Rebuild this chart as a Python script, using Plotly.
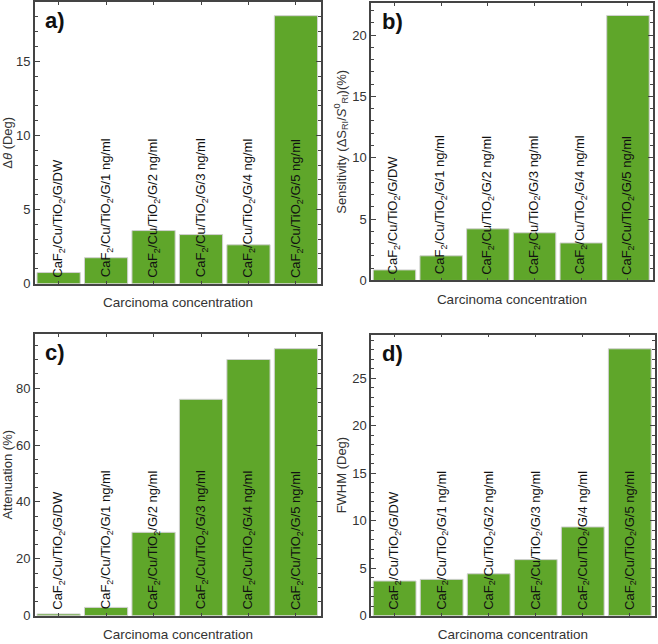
import plotly.graph_objects as go

categories = ["DW", "1 ng/ml", "2 ng/ml", "3 ng/ml", "4 ng/ml", "5 ng/ml"]
bar_labels = ["CaF<sub>2</sub>/Cu/TiO<sub>2</sub>/G/" + c for c in categories]

delta_theta = [0.75, 1.75, 3.58, 3.31, 2.62, 18.07]
sensitivity = [0.86, 2.01, 4.21, 3.89, 3.06, 21.6]
attenuation = [0.6, 2.9, 29.3, 76.1, 90.1, 93.9]
fwhm = [3.65, 3.82, 4.41, 5.9, 9.34, 28.1]

panels = [
    dict(vals=delta_theta, letter="a)", ytitle="Δ<i>θ</i> (Deg)", yrange=[0, 19.0], dtick=5, minor=1,
         xdom=[0.053, 0.488], ydom=[0.554, 0.997]),
    dict(vals=sensitivity, letter="b)", ytitle="Sensitivity (ΔS<sub>RI</sub>/<i>S</i><sup>0</sup><sub>RI</sub>)(%)",
         yrange=[0, 22.6], dtick=5, minor=1, xdom=[0.564, 0.992], ydom=[0.559, 0.995]),
    dict(vals=attenuation, letter="c)", ytitle="Attenuation (%)", yrange=[0, 99.1], dtick=20, minor=5,
         xdom=[0.053, 0.488], ydom=[0.032, 0.475]),
    dict(vals=fwhm, letter="d)", ytitle="FWHM (Deg)", yrange=[0, 29.6], dtick=5, minor=1,
         xdom=[0.564, 0.995], ydom=[0.032, 0.474]),
]

FONT = "Liberation Sans, Arial, sans-serif"
TXT = "#333333"
FRAME = "#444444"
GREEN = "#5fa62a"

fig = go.Figure()
layout = dict(
    width=658, height=644, margin=dict(l=0, r=0, t=0, b=0),
    paper_bgcolor="white", plot_bgcolor="white", showlegend=False,
    font=dict(family=FONT, size=13, color=TXT),
)
annotations = []
xs = list(range(len(categories)))
for i, p in enumerate(panels, start=1):
    sfx = "" if i == 1 else str(i)
    xa, ya = "x" + sfx, "y" + sfx
    fig.add_trace(go.Bar(
        x=xs, y=p["vals"], xaxis=xa, yaxis=ya,
        marker=dict(color=GREEN, line=dict(color="#d0d0d0", width=1)),
        hoverinfo="y",
    ))
    layout["xaxis" + sfx] = dict(
        domain=p["xdom"], anchor=ya, range=[-0.5, 5.53],
        tickmode="array", tickvals=xs, showticklabels=False,
        ticks="inside", ticklen=3, tickcolor=FRAME, mirror="ticks",
        showline=True, linecolor=FRAME, linewidth=1.5, showgrid=False, zeroline=False,
        title=dict(text="Carcinoma concentration", font=dict(size=13.5, color=TXT), standoff=13),
    )
    layout["yaxis" + sfx] = dict(
        domain=p["ydom"], anchor=xa, range=p["yrange"], dtick=p["dtick"],
        ticks="inside", ticklen=5, tickcolor=FRAME, mirror="ticks",
        minor=dict(dtick=p["minor"], ticks="inside", ticklen=3, tickcolor=FRAME),
        showline=True, linecolor=FRAME, linewidth=1.5, showgrid=False, zeroline=False,
        tickfont=dict(size=13, color=TXT),
        title=dict(text=p["ytitle"], font=dict(size=13, color=TXT), standoff=3),
    )
    annotations.append(dict(
        text="<b>" + p["letter"] + "</b>", xref=xa + " domain", yref=ya + " domain",
        x=0.03, y=0.985, xanchor="left", yanchor="top", showarrow=False,
        font=dict(size=22, color="#111111", family=FONT),
    ))
    for xi, lab in zip(xs, bar_labels):
        annotations.append(dict(
            text=lab, xref=xa, yref=ya, x=xi, y=0, xanchor="center", yanchor="bottom",
            yshift=4, textangle=-90, showarrow=False,
            font=dict(size=13, color="#111111", family=FONT),
        ))

layout["annotations"] = annotations
layout["bargap"] = 0.09
fig.update_layout(**layout)
fig.write_html("out.html")
